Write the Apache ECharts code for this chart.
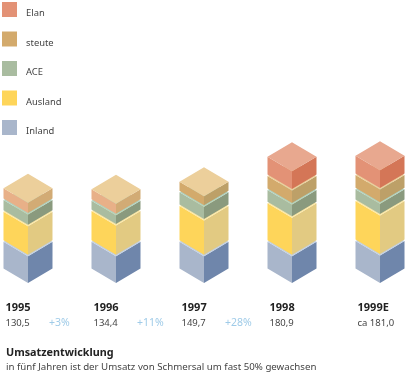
<!DOCTYPE html>
<html>
<head>
<meta charset="utf-8">
<script src="https://cdn.jsdelivr.net/npm/echarts@6/dist/echarts.min.js"></script>
<style>
  html, body { margin: 0; padding: 0; background: #fff; }
  #chart { width: 408px; height: 375px; }
</style>
</head>
<body>
<div id="chart"></div>
<script>
var years = ['1995', '1996', '1997', '1998', '1999E'];
var totals = ['130,5', '134,4', '149,7', '180,9', 'ca 181,0'];
var growth = ['+3%', '+11%', '+28%'];

var inland = [45.5, 45.5, 45.5, 45.5, 46.6];
var ausland = [48.2, 49.4, 57.4, 61.6, 64.3];
var ace = [18.8, 16.6, 22, 21.4, 18.8];
var steute = [18.8, 18.3, 17, 22.5, 23];
var elan = [0, 0, 0, 31, 31];

var layerNames = ['Inland', 'Ausland', 'ACE', 'steute', 'Elan'];
var layerValues = [inland, ausland, ace, steute, elan];
var faces = {
  Inland: ['#a9b6cb', '#6f86ab', '#c3d0e0'],
  Ausland: ['#fed55a', '#e2ca82', '#fbe7a4'],
  ACE: ['#a9bca0', '#8a9a7e', '#b0d2c0'],
  steute: ['#d3aa6c', '#bda068', '#eccf9b'],
  Elan: ['#e39276', '#d47657', '#e8a88f']
};
// 1995 und 1996: obere Schicht links pfirsichfarben
var peachYears = [0, 1];
var peachFaces = ['#e8b088', '#d2ab75', '#eccf9b'];

var halfW = 24.5, halfH = 14.5, gap = 1.5;
var font = '"Noto Sans", sans-serif';

function box(api, layer) {
  var cat = api.value(0);
  var from = api.coord([cat, api.value(1)]);
  var to = api.coord([cat, api.value(2)]);
  if (api.value(2) <= api.value(1)) return null;
  var x = from[0], y0 = from[1] - gap, y1 = to[1];
  var c = faces[layer];
  if (layer === 'steute' && peachYears.indexOf(cat) > -1) c = peachFaces;
  return {
    type: 'group',
    children: [
      { type: 'polygon', shape: { points: [[x - halfW, y0], [x, y0 + halfH], [x, y1 + halfH], [x - halfW, y1]] }, style: { fill: c[0] } },
      { type: 'polygon', shape: { points: [[x, y0 + halfH], [x + halfW, y0], [x + halfW, y1], [x, y1 + halfH]] }, style: { fill: c[1] } },
      { type: 'polygon', shape: { points: [[x - halfW, y1], [x, y1 - halfH], [x + halfW, y1], [x, y1 + halfH]] }, style: { fill: c[2] } }
    ]
  };
}

var base = years.map(function () { return 0; });
var series = layerNames.map(function (name, i) {
  var rows = years.map(function (y, k) {
    var start = base[k];
    base[k] += layerValues[i][k];
    return [k, start, base[k]];
  });
  return {
    name: name,
    type: 'custom',
    itemStyle: { color: faces[name][0] },
    data: rows,
    encode: { x: 0, y: [1, 2] },
    renderItem: function (params, api) { return box(api, name); },
    silent: true
  };
});

// Jahreszeile unter den Saeulen
series.push({
  type: 'custom',
  silent: true,
  data: years.map(function (y, k) { return [k, 0]; }),
  encode: { x: 0, y: 1 },
  renderItem: function (params, api) {
    var k = api.value(0);
    var p = api.coord([k, 0]);
    var kids = [
      { type: 'text', x: p[0] - 22.5, y: 308, style: { text: years[k], fontFamily: font, fontSize: 11, fontWeight: 'bold', fill: '#222', verticalAlign: 'middle' } },
      { type: 'text', x: p[0] - 22.5, y: 323, style: { text: totals[k], fontFamily: font, fontSize: 9.5, fill: '#444', verticalAlign: 'middle' } }
    ];
    if (growth[k]) {
      kids.push({ type: 'text', x: p[0] + 21, y: 323, style: { text: growth[k], fontFamily: font, fontSize: 10.5, fill: '#9fcbe8', verticalAlign: 'middle' } });
    }
    return { type: 'group', children: kids };
  }
});

var myChart = echarts.init(document.getElementById('chart'));
myChart.setOption({
  animation: false,
  title: {
    text: 'Umsatzentwicklung',
    subtext: 'in fünf Jahren ist der Umsatz von Schmersal um fast 50% gewachsen',
    left: 6,
    top: 347,
    padding: 0,
    itemGap: 4,
    textStyle: { fontFamily: font, fontSize: 10.8, fontWeight: 'bold', color: '#222' },
    subtextStyle: { fontFamily: font, fontSize: 9.7, color: '#444' }
  },
  legend: {
    orient: 'vertical',
    left: 2,
    top: 2,
    padding: 0,
    itemWidth: 15,
    itemHeight: 15,
    itemGap: 13.5,
    icon: 'rect',
    selectedMode: false,
    data: ['Elan', 'steute', 'ACE', 'Ausland', 'Inland'],
    formatter: function (name) { return '{a|' + name + '}'; },
    textStyle: { rich: { a: { fontFamily: font, fontSize: 9.4, color: '#444', padding: [8, 0, 0, 4] } } }
  },
  grid: { left: 0, right: 0, top: 0, height: 270 },
  xAxis: { type: 'value', min: -0.318, max: 4.318, show: false },
  yAxis: { type: 'value', min: 0, max: 434, show: false },
  series: series
});
</script>
</body>
</html>
